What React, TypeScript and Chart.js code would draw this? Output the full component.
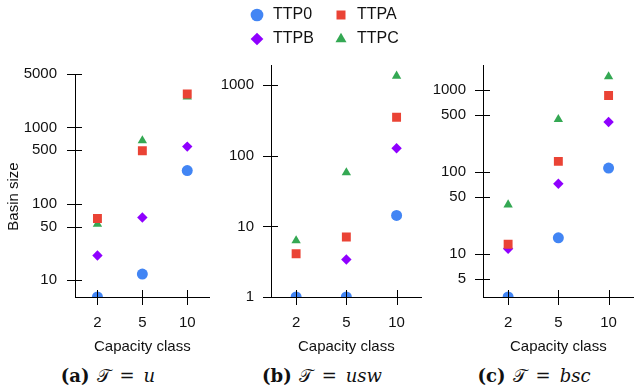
import React, { useEffect, useRef } from 'react';
import { Chart, registerables } from 'chart.js';

Chart.register(...registerables);

// ---------- data ----------
const categories = ['2', '5', '10'];
const seriesNames = ['TTP0', 'TTPA', 'TTPB', 'TTPC'];

// (a) T = u
const uTTP0 = [6, 12, 272];
const uTTPA = [64, 495, 2735];
const uTTPB = [21, 66, 560];
const uTTPC = [54, 670, 2520];

// (b) T = usw
const uswTTP0 = [1, 1, 14.3];
const uswTTPA = [4.1, 7.1, 353];
const uswTTPB = [1, 3.4, 128];
const uswTTPC = [6.3, 58, 1355];

// (c) T = bsc
const bscTTP0 = [3, 15.8, 112];
const bscTTPA = [13.2, 135, 860];
const bscTTPB = [11.6, 72, 408];
const bscTTPC = [40, 440, 1456];

const uTicks = [10, 50, 100, 500, 1000, 5000];
const uswTicks = [1, 10, 100, 1000];
const bscTicks = [5, 10, 50, 100, 500, 1000];

const uRange = [6, 5000];
const uswRange = [1, 1940];
const bscRange = [3, 2020];

const xTitle = 'Capacity class';
const yTitle = 'Basin size';

// ---------- styles ----------
const FONT = '"Liberation Sans", Arial, sans-serif';
const TEXT = '#111';
const colors = ['#4285F4', '#EA4335', '#8F00FF', '#34A853'];
const pointStyles = ['circle', 'rect', 'rectRot', 'triangle'];
const pointRadii = [5.5, 6.3, 5.2, 5.4];

function makeDecor(withTitle: boolean) {
  return {
    id: 'decor',
    afterDraw(chart: any) {
      const ctx = chart.ctx;
      const area = chart.chartArea;
      const xs = chart.scales['x'];
      const ys = chart.scales['y'];
      ctx.save();
      ctx.fillStyle = '#000';
      const nx = xs.ticks.length;
      for (let i = 0; i < nx; i++) {
        const px = Math.round(xs.getPixelForTick(i));
        ctx.fillRect(px, Math.round(area.bottom) - 7, 1, 15);
      }
      const ny = ys.ticks.length;
      for (let i = 0; i < ny; i++) {
        const py = Math.round(ys.getPixelForTick(i));
        ctx.fillRect(Math.round(area.left) - 8, py, 15, 1);
      }
      if (withTitle) {
        ctx.translate(14, (area.top + area.bottom) / 2 + 11);
        ctx.rotate(-Math.PI / 2);
        ctx.font = '15px ' + FONT;
        ctx.fillStyle = TEXT;
        ctx.textAlign = 'center';
        ctx.textBaseline = 'middle';
        ctx.fillText(yTitle, 0, 0);
      }
      ctx.restore();
    },
  };
}

function makeDatasets(series: number[][]) {
  return series.map((data, i) => ({
    label: seriesNames[i],
    data,
    showLine: false,
    pointStyle: pointStyles[i],
    pointRadius: pointRadii[i],
    pointHoverRadius: pointRadii[i],
    pointBackgroundColor: colors[i],
    pointBorderWidth: 0,
    backgroundColor: colors[i],
    borderColor: colors[i],
    borderWidth: 0,
    clip: 0,
  }));
}

function makeConfig(series: number[][], ticks: number[], range: number[], yWidth: number, padTop: number, withTitle: boolean): any {
  return {
    type: 'line',
    data: { labels: categories, datasets: makeDatasets(series) },
    plugins: [makeDecor(withTitle)],
    options: {
      responsive: false,
      animation: false,
      devicePixelRatio: 1,
      layout: { padding: { top: padTop, left: 0, right: 0, bottom: 0 } },
      plugins: { legend: { display: false }, tooltip: { enabled: false } },
      scales: {
        x: {
          type: 'category',
          offset: true,
          grid: { display: true, drawOnChartArea: false, drawTicks: true, tickLength: 16, color: 'rgba(0,0,0,0)' },
          border: { display: true, color: '#000', width: 1 },
          ticks: { padding: 1, autoSkip: false, maxRotation: 0, font: { family: FONT, size: 15 }, color: TEXT },
          title: { display: true, text: xTitle, font: { family: FONT, size: 15 }, color: TEXT, padding: { top: 0, bottom: 4 } },
          afterFit: (s: any) => { s.height = 63; },
        },
        y: {
          type: 'logarithmic',
          min: range[0],
          max: range[1],
          afterBuildTicks: (s: any) => { s.ticks = ticks.map((v) => ({ value: v })); },
          afterFit: (s: any) => { s.width = yWidth; },
          grid: { display: true, drawOnChartArea: false, drawTicks: true, tickLength: withTitle ? 17 : 16, color: 'rgba(0,0,0,0)' },
          border: { display: true, color: '#000', width: 1 },
          ticks: { padding: 1, autoSkip: false, font: { family: FONT, size: 15 }, color: TEXT, callback: (v: any) => String(v) },
        },
      },
    },
  };
}

function Panel(props: { left: number; width: number; config: any }) {
  const ref = useRef<HTMLCanvasElement>(null);
  useEffect(() => {
    const chart = new Chart(ref.current as HTMLCanvasElement, props.config);
    return () => chart.destroy();
  }, []);
  return (
    <div style={{ position: 'absolute', left: props.left, top: 55, width: props.width, height: 305 }}>
      <canvas ref={ref} width={props.width} height={305} style={{ width: props.width, height: 305, display: 'block' }} />
    </div>
  );
}

function LegendColumn(props: { left: number; idx: number[] }) {
  const ref = useRef<HTMLCanvasElement>(null);
  useEffect(() => {
    const chart = new Chart(ref.current as HTMLCanvasElement, {
      type: 'line',
      data: {
        labels: [],
        datasets: props.idx.map((i) => ({
          label: seriesNames[i],
          data: [],
          pointStyle: pointStyles[i] as any,
          pointBackgroundColor: colors[i],
          pointBorderWidth: 0,
          backgroundColor: colors[i],
          borderColor: colors[i],
          borderWidth: 0,
        })),
      },
      options: {
        responsive: false,
        animation: false,
        devicePixelRatio: 1,
        layout: { padding: 0 },
        scales: { x: { display: false }, y: { display: false } },
        plugins: {
          tooltip: { enabled: false },
          legend: {
            display: true,
            position: 'top',
            align: 'start',
            maxHeight: 80,
            labels: {
              usePointStyle: true,
              boxWidth: 16,
              boxHeight: 9,
              padding: 8,
              color: TEXT,
              font: { family: FONT, size: 16 },
            },
          },
        },
      } as any,
    });
    return () => chart.destroy();
  }, []);
  return (
    <div style={{ position: 'absolute', left: props.left, top: -1, width: 100, height: 56, overflow: 'hidden' }}>
      <canvas ref={ref} width={100} height={80} style={{ width: 100, height: 80, display: 'block' }} />
    </div>
  );
}

function Caption(props: { left: number; width: number; letter: string; sub: string }) {
  return (
    <div
      style={{
        position: 'absolute',
        left: props.left,
        width: props.width,
        top: 365,
        textAlign: 'center',
        fontFamily: '"DejaVu Serif", serif',
        fontSize: 18,
        lineHeight: '22px',
        color: TEXT,
        whiteSpace: 'nowrap',
      }}
    >
      <b>({props.letter})</b>
      <span style={{ marginLeft: 7 }}>𝒯</span>
      <span style={{ margin: '0 9px' }}>=</span>
      <i>{props.sub}</i>
    </div>
  );
}

export default function App() {
  const cfgA = makeConfig([uTTP0, uTTPA, uTTPB, uTTPC], uTicks, uRange, 75, 19, true);
  const cfgB = makeConfig([uswTTP0, uswTTPA, uswTTPB, uswTTPC], uswTicks, uswRange, 55, 10, false);
  const cfgC = makeConfig([bscTTP0, bscTTPA, bscTTPB, bscTTPC], bscTicks, bscRange, 55, 10, false);
  return (
    <div style={{ position: 'absolute', left: 0, top: 0, width: 636, height: 390, overflow: 'hidden', background: '#fff' }}>
      <Panel left={0} width={216} config={cfgA} />
      <Panel left={216} width={212} config={cfgB} />
      <Panel left={428} width={212} config={cfgC} />
      <LegendColumn left={241} idx={[0, 2]} />
      <LegendColumn left={325} idx={[1, 3]} />
      <Caption left={0} width={216} letter="a" sub="u" />
      <Caption left={216} width={212} letter="b" sub="usw" />
      <Caption left={428} width={212} letter="c" sub="bsc" />
    </div>
  );
}
